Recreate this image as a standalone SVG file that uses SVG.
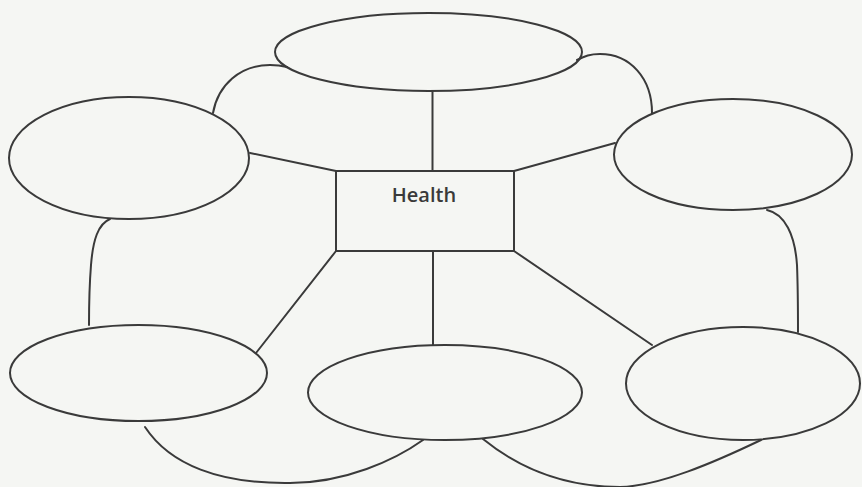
<svg xmlns="http://www.w3.org/2000/svg" width="862" height="487" viewBox="0 0 862 487">
  <style>
    .node { fill: none; stroke: #3a3a3a; stroke-width: 2; }
    .conn { fill: none; stroke: #3a3a3a; stroke-width: 2; stroke-linecap: round; }
    .label { font-family: "Open Sans", "Liberation Sans", sans-serif; font-size: 20px; font-weight: 600; fill: #3a3a3a; text-anchor: middle; }
  </style>
  <rect x="0" y="0" width="862" height="487" fill="#f5f6f3"/>
  <g id="connectors">
    <line class="conn" x1="432.5" y1="91" x2="432.5" y2="171"/>
    <line class="conn" x1="250" y1="153" x2="336" y2="171"/>
    <line class="conn" x1="514" y1="171" x2="615" y2="143"/>
    <line class="conn" x1="336" y1="251" x2="256" y2="353"/>
    <line class="conn" x1="433" y1="251" x2="433" y2="345"/>
    <line class="conn" x1="514" y1="251" x2="652" y2="345"/>
    <path class="conn" d="M213,113 C218,85 240,65 270,65 C278,65 283,66 287,67"/>
    <path class="conn" d="M577,60 C585,56 590,54 600,54 C630,54 652,78 652,113"/>
    <path class="conn" d="M110,219 C98,224 93,240 91,265 C89,290 89,310 89,325"/>
    <path class="conn" d="M767,210 C785,214 795,235 797,265 C798,290 798,310 798,332"/>
    <path class="conn" d="M145,427 C170,465 220,484 290,483 C345,483 395,460 423,440"/>
    <path class="conn" d="M483,439 C515,465 560,487 620,487 C660,486 715,462 761,440"/>
  </g>
  <g id="node-top"><ellipse class="node" cx="428.5" cy="52" rx="153.5" ry="39"/></g>
  <g id="node-left"><ellipse class="node" cx="129" cy="158" rx="120" ry="61"/></g>
  <g id="node-right"><ellipse class="node" cx="733" cy="154.5" rx="119" ry="55.5"/></g>
  <g id="node-bottom-left"><ellipse class="node" cx="138.5" cy="373" rx="128.5" ry="48"/></g>
  <g id="node-bottom-middle"><ellipse class="node" cx="445" cy="392.5" rx="137" ry="47.5"/></g>
  <g id="node-bottom-right"><ellipse class="node" cx="743" cy="383.5" rx="117" ry="56.5"/></g>
  <g id="node-health">
    <rect class="node" x="336" y="171" width="178" height="80"/>
    <text class="label" x="424" y="202">Health</text>
  </g>
</svg>
